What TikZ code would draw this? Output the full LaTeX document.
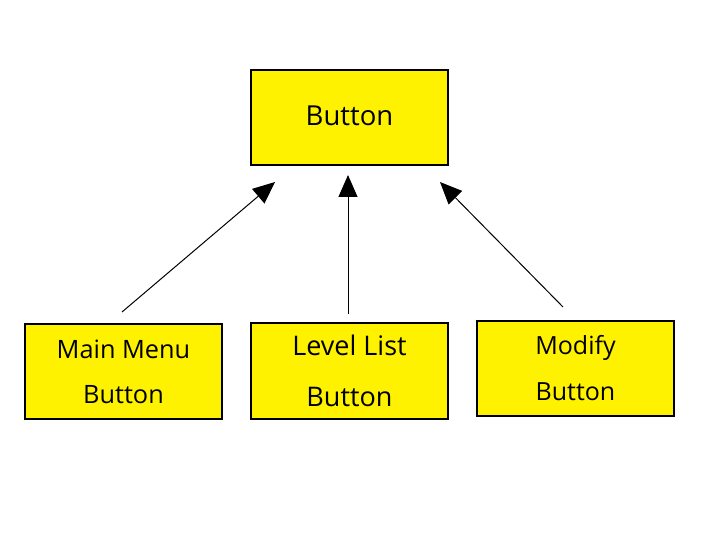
\documentclass[tikz,border=0pt]{standalone}
\usepackage{fontspec}
\setmainfont{Open Sans}
\usepackage{xcolor}
\usetikzlibrary{arrows.meta}
\definecolor{btnyellow}{HTML}{FFF200}

\begin{document}
\begin{tikzpicture}[x=1pt,y=-1pt,>={Triangle[length=22pt,width=19pt]},
  box/.style={draw=black,fill=btnyellow,line width=1.1pt,minimum width=197pt,minimum height=95pt,inner sep=0pt,align=center}]
  \useasboundingbox (0,0) rectangle (710,559);

  % Top
  \node[box,font=\fontsize{27.5}{30}\selectfont] (btn) at (349.5,117.5) {\raisebox{3pt}{Button}};

  % Bottom
  \node[box,font=\fontsize{25.3}{45}\selectfont] (mainmenu) at (123.5,371.5) {Main Menu\\Button};
  \node[box,minimum height=96pt,font=\fontsize{27}{51}\selectfont] (levellist) at (349.5,371) {Level List\\Button};
  \node[box,font=\fontsize{25}{46}\selectfont] (modify) at (575.5,368.5) {Modify\\Button};

  % Arrows
  \coordinate (mainmenu tail) at (122,312);
  \coordinate (mainmenu tip) at (275,182);
  \coordinate (levellist tail) at (348,314);
  \coordinate (levellist tip) at (348,175);
  \coordinate (modify tail) at (563,307);
  \coordinate (modify tip) at (440,182);
  \draw[->,line width=1pt] (mainmenu tail) -- (mainmenu tip);
  \draw[->,line width=1pt] (levellist tail) -- (levellist tip);
  \draw[->,line width=1pt] (modify tail) -- (modify tip);
\end{tikzpicture}
\end{document}
